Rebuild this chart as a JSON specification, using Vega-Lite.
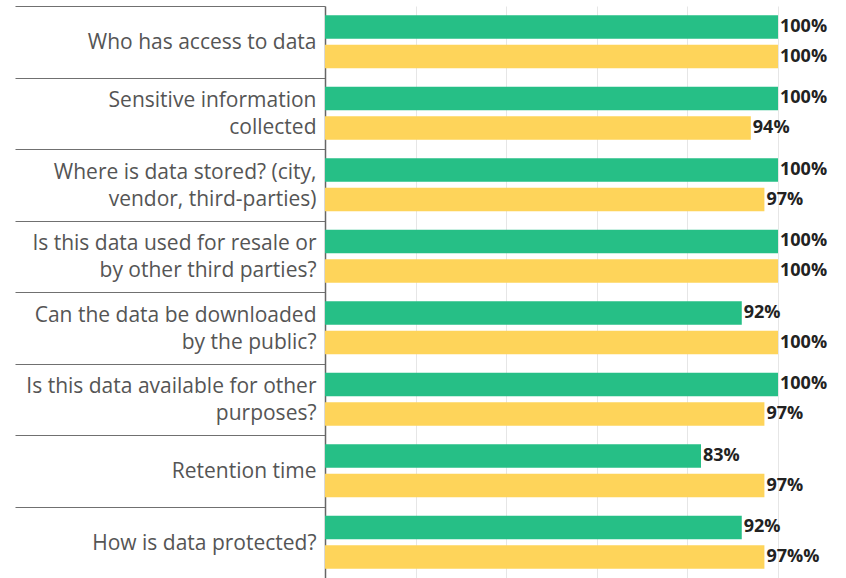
{
  "$schema": "https://vega.github.io/schema/vega-lite/v6.json",
  "width": 521,
  "height": 572,
  "autosize": {"type": "none"},
  "padding": {"left": 325, "top": 6, "right": 0, "bottom": 0},
  "background": "white",
  "config": {"view": {"stroke": null}, "font": "Open Sans"},
  "data": {
    "values": [
      {"question": "Who has access to data", "series": "A", "value": 100, "label": "100%"},
      {"question": "Who has access to data", "series": "B", "value": 100, "label": "100%"},
      {"question": "Sensitive information|collected", "series": "A", "value": 100, "label": "100%"},
      {"question": "Sensitive information|collected", "series": "B", "value": 94, "label": "94%"},
      {"question": "Where is data stored? (city,|vendor, third-parties)", "series": "A", "value": 100, "label": "100%"},
      {"question": "Where is data stored? (city,|vendor, third-parties)", "series": "B", "value": 97, "label": "97%"},
      {"question": "Is this data used for resale or|by other third parties?", "series": "A", "value": 100, "label": "100%"},
      {"question": "Is this data used for resale or|by other third parties?", "series": "B", "value": 100, "label": "100%"},
      {"question": "Can the data be downloaded|by the public?", "series": "A", "value": 92, "label": "92%"},
      {"question": "Can the data be downloaded|by the public?", "series": "B", "value": 100, "label": "100%"},
      {"question": "Is this data available for other|purposes?", "series": "A", "value": 100, "label": "100%"},
      {"question": "Is this data available for other|purposes?", "series": "B", "value": 97, "label": "97%"},
      {"question": "Retention time", "series": "A", "value": 83, "label": "83%"},
      {"question": "Retention time", "series": "B", "value": 97, "label": "97%"},
      {"question": "How is data protected?", "series": "A", "value": 92, "label": "92%"},
      {"question": "How is data protected?", "series": "B", "value": 97, "label": "97%%"}
    ]
  },
  "encoding": {
    "yOffset": {
      "field": "series",
      "type": "nominal",
      "scale": {"paddingInner": 0.2, "paddingOuter": 0.31}
    },
    "x": {
      "field": "value",
      "type": "quantitative",
      "scale": {"domain": [0, 115.01], "nice": false},
      "axis": {
        "title": null,
        "labels": false,
        "ticks": false,
        "domain": false,
        "values": [20, 40, 60, 80, 100],
        "gridColor": "#e6e6e6",
        "gridWidth": 1
      }
    }
  },
  "layer": [
    {
      "mark": {"type": "bar"},
      "encoding": {
        "y": {
          "field": "question",
          "type": "nominal",
          "sort": null,
          "scale": {"paddingInner": 0, "paddingOuter": 0},
          "axis": {
            "title": null,
            "orient": "left",
            "tickBand": "extent",
            "tickSize": 310,
            "tickColor": "#707070",
            "tickWidth": 1.2,
            "domainColor": "#666666",
            "domainWidth": 1.5,
            "labelExpr": "indexof(datum.label, '|') >= 0 ? '' : datum.label",
            "labelFont": "Open Sans",
            "labelFontSize": 21,
            "labelColor": "#555555",
            "labelOffset": 1,
            "labelPadding": -301,
            "labelLimit": 400
          }
        },
        "color": {
          "field": "series",
          "type": "nominal",
          "scale": {"domain": ["A", "B"], "range": ["#26bf86", "#fed45a"]},
          "legend": null
        }
      }
    },
    {
      "mark": {"type": "text", "align": "left", "baseline": "middle", "dx": 2, "font": "Open Sans", "fontWeight": "bold", "fontSize": 18, "color": "#222222"},
      "encoding": {
        "y": {
          "field": "question",
          "type": "nominal",
          "sort": null,
          "axis": {
            "title": null,
            "orient": "left",
            "domain": false,
            "ticks": false,
            "tickSize": 0,
            "grid": false,
            "labelExpr": "indexof(datum.label, '|') >= 0 ? split(datum.label, '|') : ''",
            "labelFont": "Open Sans",
            "labelFontSize": 21,
            "labelColor": "#555555",
            "labelLineHeight": 27,
            "labelOffset": -12,
            "labelPadding": 9,
            "labelLimit": 400
          }
        },
        "text": {"field": "label"}
      }
    }
  ],
  "resolve": {"axis": {"y": "independent"}}
}
